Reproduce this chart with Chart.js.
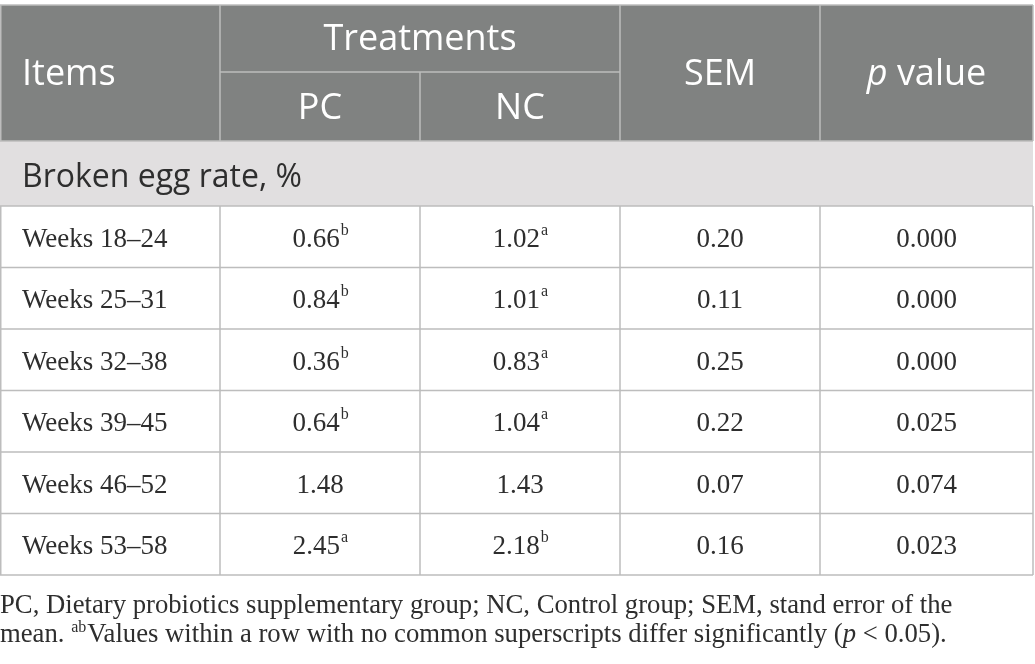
<!DOCTYPE html>
<html>
<head>
<meta charset="utf-8">
<script src="https://cdn.jsdelivr.net/npm/chart.js@4"></script>
<style>
  html, body { margin: 0; padding: 0; background: #fff; }
  #tableChart { display: block; }
</style>
</head>
<body>
<canvas id="tableChart" width="1035" height="664"></canvas>
<script>
// table content
var columns = ["Items", "PC", "NC", "SEM", "p value"];
var groupTitle = "Treatments";
var sectionTitle = "Broken egg rate, %";
var items = [
  "Weeks 18\u201324",
  "Weeks 25\u201331",
  "Weeks 32\u201338",
  "Weeks 39\u201345",
  "Weeks 46\u201352",
  "Weeks 53\u201358"
];
var pcValues = [0.66, 0.84, 0.36, 0.64, 1.48, 2.45];
var pcSup = ["b", "b", "b", "b", "", "a"];
var ncValues = [1.02, 1.01, 0.83, 1.04, 1.43, 2.18];
var ncSup = ["a", "a", "a", "a", "", "b"];
var semValues = [0.20, 0.11, 0.25, 0.22, 0.07, 0.16];
var pValues = [0.000, 0.000, 0.000, 0.025, 0.074, 0.023];
var footLine1 = "PC, Dietary probiotics supplementary group; NC, Control group; SEM, stand error of the";
var footLine2 = ["mean. ", "ab", "Values within a row with no common superscripts differ significantly (", "p", " < 0.05)."];

// layout (in scale units, same as page pixels)
var colEdges = [0, 220, 420, 620, 820, 1033];
var headTop = 5, headMid = 72, headBottom = 141, sectionBottom = 206, rowHeight = 61.5;

var serif = '"Liberation Serif", "DejaVu Serif", serif';
var sans = '"Open Sans", "Noto Sans", sans-serif';

var tablePlugin = {
  id: "tableDraw",
  afterDraw: function(chart) {
    var ctx = chart.ctx;
    var xs = chart.scales.x, ys = chart.scales.y;
    var X = function(v) { return xs.getPixelForValue(v); };
    var Y = function(v) { return ys.getPixelForValue(v); };
    var bodyBottom = sectionBottom + rowHeight * items.length;

    ctx.save();
    // backgrounds
    ctx.fillStyle = "#808281";
    ctx.fillRect(X(0), Y(headTop), X(colEdges[5]) - X(0), Y(headBottom) - Y(headTop));
    ctx.fillStyle = "#e1dfe0";
    ctx.fillRect(X(0), Y(headBottom), X(colEdges[5]) - X(0), Y(sectionBottom) - Y(headBottom));

    // grid lines
    ctx.strokeStyle = "#bdbdbd";
    ctx.lineWidth = 1.5;
    function line(x1, y1, x2, y2) {
      ctx.beginPath();
      ctx.moveTo(X(x1), Y(y1));
      ctx.lineTo(X(x2), Y(y2));
      ctx.stroke();
    }
    line(0, headTop, colEdges[5], headTop);
    line(colEdges[1], headMid, colEdges[3], headMid);
    line(0, headBottom, colEdges[5], headBottom);
    for (var r = 0; r <= items.length; r++) {
      var yy = sectionBottom + r * rowHeight;
      line(0, yy, colEdges[5], yy);
    }
    line(0.75, headTop, 0.75, headBottom);
    line(0.75, sectionBottom, 0.75, bodyBottom);
    line(colEdges[5], headTop, colEdges[5], headBottom);
    line(colEdges[5], sectionBottom, colEdges[5], bodyBottom);
    [1, 3, 4].forEach(function(i) {
      line(colEdges[i], headTop, colEdges[i], headBottom);
      line(colEdges[i], sectionBottom, colEdges[i], bodyBottom);
    });
    line(colEdges[2], headMid, colEdges[2], headBottom);
    line(colEdges[2], sectionBottom, colEdges[2], bodyBottom);

    // header text
    ctx.fillStyle = "#ffffff";
    ctx.textBaseline = "middle";
    ctx.font = "36px " + sans;
    ctx.textAlign = "left";
    ctx.fillText(columns[0], X(22), Y(75));
    ctx.textAlign = "center";
    ctx.fillText(groupTitle, X((colEdges[1] + colEdges[3]) / 2), Y(40));
    ctx.fillText(columns[1], X((colEdges[1] + colEdges[2]) / 2), Y(109));
    ctx.fillText(columns[2], X((colEdges[2] + colEdges[3]) / 2), Y(109));
    ctx.fillText(columns[3], X((colEdges[3] + colEdges[4]) / 2), Y(75));
    // "p value" with italic p
    var pParts = columns[4].split(" ");
    ctx.font = "italic 36px " + sans;
    var wp = ctx.measureText(pParts[0]).width;
    ctx.font = "36px " + sans;
    var wr = ctx.measureText(" " + pParts[1]).width;
    var cx = (X(colEdges[4]) + X(colEdges[5])) / 2;
    var sx = cx - (wp + wr) / 2;
    ctx.textAlign = "left";
    ctx.font = "italic 36px " + sans;
    ctx.fillText(pParts[0], sx, Y(75));
    ctx.font = "36px " + sans;
    ctx.fillText(" " + pParts[1], sx + wp, Y(75));

    // section title
    ctx.fillStyle = "#2e2e2e";
    ctx.font = "32px " + sans;
    ctx.textBaseline = "alphabetic";
    ctx.fillText(sectionTitle, X(22), Y(187));

    // body cells
    function valueCell(text, sup, c0, c1, yMid) {
      ctx.font = "27px " + serif;
      var w1 = ctx.measureText(text).width;
      ctx.font = "16px " + serif;
      var w2 = sup ? ctx.measureText(sup).width : 0;
      var start = (X(c0) + X(c1)) / 2 - (w1 + w2) / 2;
      ctx.textAlign = "left";
      ctx.textBaseline = "alphabetic";
      ctx.font = "27px " + serif;
      ctx.fillText(text, start, yMid + 10);
      if (sup) {
        ctx.font = "16px " + serif;
        ctx.fillText(sup, start + w1 + 1, yMid - 2);
      }
    }
    ctx.fillStyle = "#2e2e2e";
    for (var i = 0; i < items.length; i++) {
      var yMid = Y(sectionBottom + (i + 0.5) * rowHeight);
      ctx.textAlign = "left";
      ctx.textBaseline = "alphabetic";
      ctx.font = "27px " + serif;
      ctx.fillText(items[i], X(22), yMid + 10);
      valueCell(pcValues[i].toFixed(2), pcSup[i], colEdges[1], colEdges[2], yMid);
      valueCell(ncValues[i].toFixed(2), ncSup[i], colEdges[2], colEdges[3], yMid);
      valueCell(semValues[i].toFixed(2), "", colEdges[3], colEdges[4], yMid);
      valueCell(pValues[i].toFixed(3), "", colEdges[4], colEdges[5], yMid);
    }

    // footnote
    ctx.fillStyle = "#2e2e2e";
    ctx.textAlign = "left";
    ctx.textBaseline = "alphabetic";
    ctx.font = "26.7px " + serif;
    ctx.fillText(footLine1, X(0), Y(613));
    var fx = X(0);
    var styles = ["26.7px ", "16px ", "26.7px ", "italic 26.7px ", "26.7px "];
    var lifts = [0, 10, 0, 0, 0];
    footLine2.forEach(function(t, k) {
      ctx.font = styles[k] + serif;
      ctx.fillText(t, fx, Y(642) - lifts[k]);
      fx += ctx.measureText(t).width + (k === 1 ? 1 : 0);
    });
    ctx.restore();
  }
};

new Chart("tableChart", {
  type: "scatter",
  data: {
    datasets: [{ data: [] }]
  },
  options: {
    responsive: false,
    animation: false,
    devicePixelRatio: 1,
    layout: { padding: 0 },
    plugins: {
      legend: { display: false },
      tooltip: { enabled: false }
    },
    scales: {
      x: { type: "linear", min: 0, max: 1035, display: false },
      y: { type: "linear", min: 0, max: 664, reverse: true, display: false }
    }
  },
  plugins: [tablePlugin]
});
</script>
</body>
</html>
